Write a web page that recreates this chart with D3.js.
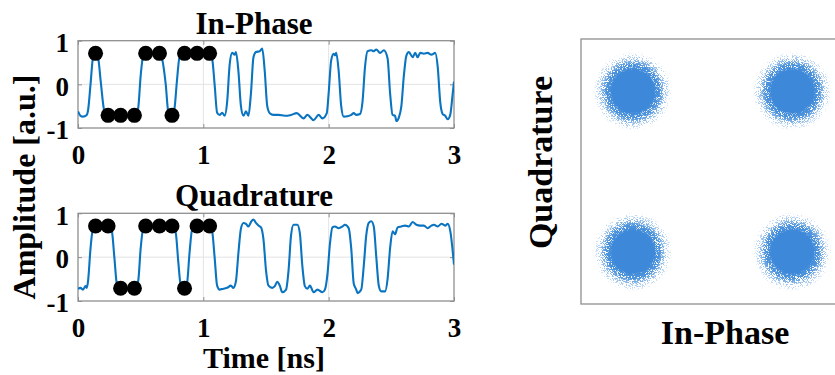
<!DOCTYPE html>
<html>
<head>
<meta charset="utf-8">
<script src="https://cdn.jsdelivr.net/npm/d3@7"></script>
<style>
  html, body { margin: 0; padding: 0; background: #fff; }
  svg { display: block; font-family: "Liberation Serif", "Times New Roman", serif; font-weight: bold; }
</style>
</head>
<body>
<svg id="chart" width="835" height="375"></svg>
<script>
// ---------------- data ----------------
const xTicks = [0, 1, 2, 3];
const yTicks = [-1, 0, 1];
const tickLabelsX = ["0", "1", "2", "3"];
const tickLabelsY = ["-1", "0", "1"];

// In-phase waveform (time ns, amplitude a.u.)
const iTime = [0.00,0.02,0.04,0.07,0.08,0.10,0.12,0.14,0.16,0.18,0.21,0.23,0.30,0.38,0.46,0.48,0.50,0.52,0.55,0.60,0.65,0.67,0.70,0.72,0.75,0.77,0.79,0.81,0.85,0.90,0.95,1.00,1.05,1.07,1.09,1.11,1.13,1.15,1.17,1.19,1.21,1.23,1.25,1.26,1.28,1.30,1.32,1.34,1.36,1.38,1.40,1.42,1.45,1.47,1.49,1.51,1.53,1.56,1.60,1.65,1.70,1.745,1.80,1.83,1.88,1.92,1.95,1.985,2.00,2.02,2.04,2.05,2.06,2.08,2.10,2.12,2.15,2.18,2.20,2.22,2.25,2.27,2.29,2.31,2.34,2.36,2.38,2.41,2.44,2.47,2.49,2.51,2.53,2.54,2.56,2.58,2.60,2.62,2.64,2.67,2.69,2.71,2.73,2.76,2.79,2.82,2.85,2.87,2.89,2.91,2.93,2.95,2.97,2.99,3.00];
const iAmp  = [-0.62,-0.72,-0.74,-0.70,-0.60,0.00,0.62,0.70,0.62,0.10,-0.62,-0.72,-0.70,-0.73,-0.70,-0.55,0.20,0.65,0.72,0.70,0.72,0.60,0.00,-0.62,-0.72,-0.55,0.10,0.62,0.72,0.70,0.72,0.70,0.72,0.60,0.00,-0.65,-0.70,-0.65,-0.72,-0.40,0.45,0.72,0.68,0.74,0.30,-0.50,-0.72,-0.62,-0.72,-0.20,0.62,0.74,0.76,0.82,0.30,-0.50,-0.66,-0.70,-0.70,-0.72,-0.70,-0.66,-0.78,-0.70,-0.82,-0.70,-0.78,-0.66,-0.20,0.55,0.70,0.66,0.72,0.30,-0.50,-0.74,-0.73,-0.70,-0.66,-0.70,-0.68,-0.40,0.40,0.76,0.78,0.76,0.80,0.72,0.78,0.60,-0.20,-0.70,-0.72,-0.84,-0.76,-0.50,0.20,0.66,0.74,0.62,0.72,0.62,0.72,0.70,0.72,0.68,0.72,0.40,-0.40,-0.68,-0.72,-0.80,-0.70,-0.20,0.06];

// Quadrature waveform
const qTime = [0.00,0.02,0.04,0.06,0.07,0.08,0.10,0.12,0.15,0.20,0.25,0.27,0.29,0.31,0.33,0.40,0.45,0.48,0.50,0.52,0.55,0.65,0.75,0.78,0.80,0.82,0.85,0.87,0.89,0.91,0.95,1.00,1.05,1.07,1.09,1.11,1.13,1.16,1.19,1.22,1.24,1.26,1.28,1.30,1.32,1.34,1.36,1.38,1.40,1.42,1.44,1.46,1.48,1.50,1.52,1.55,1.57,1.59,1.61,1.63,1.66,1.68,1.70,1.72,1.75,1.77,1.79,1.81,1.83,1.85,1.88,1.91,1.95,1.97,1.99,2.01,2.03,2.05,2.08,2.11,2.13,2.16,2.18,2.20,2.22,2.23,2.26,2.28,2.30,2.32,2.34,2.36,2.38,2.40,2.42,2.45,2.47,2.49,2.51,2.53,2.55,2.58,2.61,2.64,2.67,2.70,2.73,2.76,2.79,2.82,2.84,2.87,2.90,2.93,2.95,2.97,3.00];
const qAmp  = [-0.72,-0.70,-0.74,-0.66,-0.70,-0.55,0.20,0.66,0.72,0.70,0.72,0.60,0.00,-0.62,-0.74,-0.72,-0.74,-0.55,0.20,0.65,0.72,0.70,0.72,0.55,-0.10,-0.65,-0.74,-0.60,0.10,0.62,0.72,0.70,0.72,0.60,0.00,-0.65,-0.74,-0.72,-0.70,-0.65,-0.70,-0.55,0.10,0.65,0.78,0.76,0.70,0.80,0.86,0.78,0.72,0.68,0.40,-0.30,-0.65,-0.70,-0.66,-0.56,-0.65,-0.80,-0.74,-0.30,0.50,0.74,0.74,0.55,-0.20,-0.66,-0.72,-0.65,-0.80,-0.74,-0.80,-0.74,-0.40,0.30,0.68,0.70,0.66,0.70,0.74,0.66,0.20,-0.60,-0.74,-0.82,-0.74,-0.20,0.50,0.78,0.82,0.70,0.00,-0.65,-0.78,-0.78,-0.50,0.20,0.59,0.52,0.68,0.70,0.72,0.70,0.80,0.74,0.72,0.72,0.66,0.72,0.74,0.70,0.76,0.72,0.76,0.60,-0.17];

// decided symbols (black markers)
const symTime = [0.14, 0.24, 0.34, 0.45, 0.54, 0.65, 0.75, 0.85, 0.95, 1.05];
const symI    = [0.71,-0.71,-0.71,-0.71,0.71,0.71,-0.71,0.71,0.71,0.71];
const symQ    = [0.71,0.71,-0.71,-0.71,0.71,0.71,0.71,-0.71,0.71,0.71];

// constellation clusters (I, Q centres, core radius, spread radius)
const clusterI = [-1, 1, -1, 1];
const clusterQ = [1, 1, -1, -1];
const clusterCore = [0.31, 0.31, 0.31, 0.31];
const clusterSpread = [0.50, 0.50, 0.50, 0.50];

// ---------------- drawing ----------------
const svg = d3.select("#chart");
const defs = svg.append("defs");

const lineBlue = "#0a74c0";
const boxGray = "#8f8f8f";
const gridGray = "#e3e3e3";
const cloudBlue = "#3d88d8";
const haloBlue = "#4b92dc";

function panel(top, bottom, tArr, vArr, sT, sV, title, clipId) {
  const x = d3.scaleLinear().domain([0, 3]).range([78, 454]);
  const y = d3.scaleLinear().domain([-1, 1]).range([bottom, top]);
  const g = svg.append("g");

  defs.append("clipPath").attr("id", clipId).append("rect")
    .attr("x", x(0)).attr("y", y(1)).attr("width", x(3) - x(0)).attr("height", y(-1) - y(1));

  // grid
  g.selectAll(".gx").data(xTicks.filter(d => d > 0 && d < 3)).join("line")
    .attr("x1", d => x(d)).attr("x2", d => x(d)).attr("y1", y(1)).attr("y2", y(-1))
    .attr("stroke", gridGray).attr("stroke-width", 1);
  g.selectAll(".gy").data(yTicks.filter(d => d > -1 && d < 1)).join("line")
    .attr("y1", d => y(d)).attr("y2", d => y(d)).attr("x1", x(0)).attr("x2", x(3))
    .attr("stroke", gridGray).attr("stroke-width", 1);

  // box
  g.append("rect").attr("x", x(0)).attr("y", y(1)).attr("width", x(3) - x(0)).attr("height", y(-1) - y(1))
    .attr("fill", "none").attr("stroke", boxGray).attr("stroke-width", 1.3);

  // axes (ticks inward, labels outside)
  const ax = d3.axisBottom(x).tickValues(xTicks).tickFormat((d, i) => tickLabelsX[i]).tickSizeInner(-4).tickSizeOuter(0).tickPadding(10);
  const axG = g.append("g").attr("transform", `translate(0,${y(-1)})`).call(ax);
  const axT = g.append("g").attr("transform", `translate(0,${y(1)})`).call(d3.axisTop(x).tickValues(xTicks).tickFormat("").tickSizeInner(-4).tickSizeOuter(0));
  const ay = d3.axisLeft(y).tickValues(yTicks).tickFormat((d, i) => tickLabelsY[i]).tickSizeInner(-4).tickSizeOuter(0).tickPadding(9);
  const ayG = g.append("g").attr("transform", `translate(${x(0)},0)`).call(ay);
  const ayR = g.append("g").attr("transform", `translate(${x(3)},0)`).call(d3.axisRight(y).tickValues(yTicks).tickFormat("").tickSizeInner(-4).tickSizeOuter(0));
  [axG, axT, ayG, ayR].forEach(a => {
    a.select(".domain").remove();
    a.selectAll(".tick line").attr("stroke", boxGray);
    a.selectAll("text").attr("font-family", "Liberation Serif, Times New Roman, serif")
      .attr("font-weight", "bold").attr("font-size", 27).attr("fill", "#000");
  });
  axG.selectAll("text").attr("dy", "0.95em");
  ayG.selectAll("text").attr("dy", "0.4em");

  // waveform
  const line = d3.line().x((d, i) => x(tArr[i])).y((d, i) => y(vArr[i])).curve(d3.curveMonotoneX);
  g.append("path").datum(tArr).attr("d", line).attr("fill", "none")
    .attr("stroke", lineBlue).attr("stroke-width", 2.1).attr("clip-path", `url(#${clipId})`);

  // symbols
  g.selectAll(".sym").data(sT).join("circle")
    .attr("cx", d => x(d)).attr("cy", (d, i) => y(sV[i])).attr("r", 7.5).attr("fill", "#000");

  // title
  g.append("text").attr("x", 254).attr("y", top - 7).attr("text-anchor", "middle")
    .attr("font-size", 31).text(title);
}

panel(40.7, 128, iTime, iAmp, symTime, symI, "In-Phase", "clipI");
panel(213.3, 301, qTime, qAmp, symTime, symQ, "Quadrature", "clipQ");

// shared labels
svg.append("text").attr("x", 264).attr("y", 368).attr("text-anchor", "middle")
  .attr("font-size", 30).text("Time [ns]");
svg.append("text").attr("transform", "translate(35,187) rotate(-90)").attr("text-anchor", "middle")
  .attr("font-size", 32).text("Amplitude [a.u.]");

// ---------------- constellation ----------------
const cx = d3.scaleLinear().domain([-1.65, 1.65]).range([581, 844]);
const cy = d3.scaleLinear().domain([-1.65, 1.65]).range([304, 39]);

const grad = defs.append("radialGradient").attr("id", "cloud");
[[0, 1], [66, 1], [74, 0.78], [84, 0.5], [93, 0.3], [100, 0.1]].forEach(([o, a]) =>
  grad.append("stop").attr("offset", o + "%").attr("stop-color", haloBlue).attr("stop-opacity", a));

const cgrad = defs.append("radialGradient").attr("id", "coreGrad");
[[0, 1], [85, 1], [100, 0]].forEach(([o, a]) =>
  cgrad.append("stop").attr("offset", o + "%").attr("stop-color", cloudBlue).attr("stop-opacity", a));

const f = defs.append("filter").attr("id", "speckle").attr("x", "-10%").attr("y", "-10%")
  .attr("width", "120%").attr("height", "120%").attr("color-interpolation-filters", "sRGB");
f.append("feTurbulence").attr("type", "fractalNoise").attr("baseFrequency", 1.2).attr("numOctaves", 2).attr("seed", 7).attr("result", "noise");
f.append("feColorMatrix").attr("in", "noise").attr("type", "matrix")
  .attr("values", "0 0 0 0 0  0 0 0 0 0  0 0 0 0 0  3.2 0 0 0 -1.1").attr("result", "nA");
f.append("feComposite").attr("in", "SourceAlpha").attr("in2", "nA").attr("operator", "arithmetic")
  .attr("k1", 0).attr("k2", 1).attr("k3", -1).attr("k4", 0.5).attr("result", "diff");
const ct = f.append("feComponentTransfer").attr("in", "diff").attr("result", "mask0");
ct.append("feFuncA").attr("type", "linear").attr("slope", 4).attr("intercept", -2.2);
f.append("feComposite").attr("in", "mask0").attr("in2", "SourceAlpha").attr("operator", "in").attr("result", "mask");
f.append("feFlood").attr("flood-color", haloBlue).attr("result", "fl");
f.append("feComposite").attr("in", "fl").attr("in2", "mask").attr("operator", "in");

const cg = svg.append("g");
cg.append("rect").attr("x", cx(-1.65)).attr("y", cy(1.65)).attr("width", cx(1.65) - cx(-1.65))
  .attr("height", cy(-1.65) - cy(1.65)).attr("fill", "#fff").attr("stroke", boxGray).attr("stroke-width", 1.3);

const kx = cx(1) - cx(0);
cg.selectAll(".cl").data(clusterI).join("circle")
  .attr("cx", d => cx(d)).attr("cy", (d, i) => cy(clusterQ[i]))
  .attr("r", (d, i) => clusterSpread[i] * kx)
  .attr("fill", "url(#cloud)").attr("filter", "url(#speckle)");
cg.selectAll(".core").data(clusterI).join("circle")
  .attr("cx", d => cx(d)).attr("cy", (d, i) => cy(clusterQ[i]))
  .attr("r", (d, i) => clusterCore[i] * kx)
  .attr("fill", "url(#coreGrad)");

svg.append("text").attr("x", 725).attr("y", 344).attr("text-anchor", "middle")
  .attr("font-size", 34).text("In-Phase");
svg.append("text").attr("transform", "translate(552,162.5) rotate(-90)").attr("text-anchor", "middle")
  .attr("font-size", 34).text("Quadrature");
</script>
</body>
</html>
